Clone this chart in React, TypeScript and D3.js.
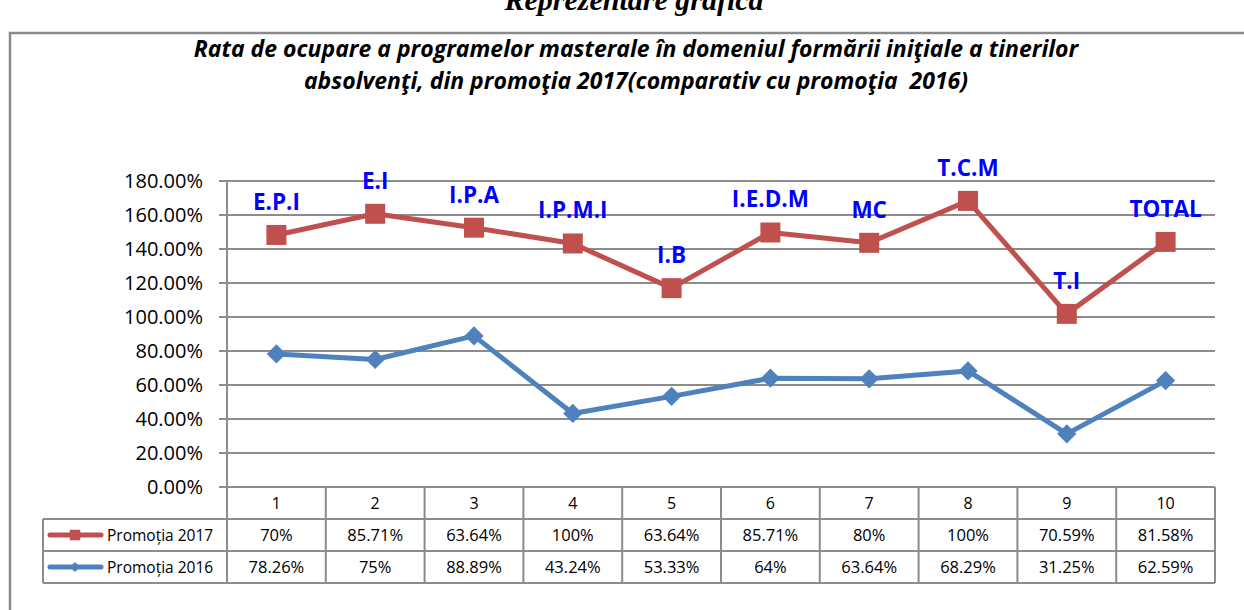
import React from 'react';
import * as d3 from 'd3';

const categories = ['1', '2', '3', '4', '5', '6', '7', '8', '9', '10'];
const pointLabels = ['E.P.I', 'E.I', 'I.P.A', 'I.P.M.I', 'I.B', 'I.E.D.M', 'MC', 'T.C.M', 'T.I', 'TOTAL'];
const promotia2017 = [70, 85.71, 63.64, 100, 63.64, 85.71, 80, 100, 70.59, 81.58];
const promotia2016 = [78.26, 75, 88.89, 43.24, 53.33, 64, 63.64, 68.29, 31.25, 62.59];
const yTicks = [0, 20, 40, 60, 80, 100, 120, 140, 160, 180];

const titleLines = [
  'Rata de ocupare a programelor masterale în domeniul formării iniţiale a tinerilor',
  'absolvenţi, din promoţia 2017(comparativ cu promoţia  2016)',
];

const RED = '#C0504D';
const BLUE = '#4F81BD';
const GRID = '#8c8c8c';
const FONT = "'Open Sans', sans-serif";

const App: React.FC = () => {
  const width = 1244;
  const height = 610;
  const plot = { left: 227, right: 1215, top: 181, bottom: 487 };
  const rowH = 32;
  const tableLeft = 43;

  const x = d3.scaleBand<string>().domain(categories).range([plot.left, plot.right]);
  const y = d3.scaleLinear().domain([0, 180]).range([plot.bottom, plot.top]);
  const cx = (c: string) => (x(c) ?? 0) + x.bandwidth() / 2;

  // stacked line chart: 2016 at bottom, 2017 on top
  const rows = categories.map((c, i) => ({ c, p2016: promotia2016[i], p2017: promotia2017[i] }));
  const stacked = d3.stack<any>().keys(['p2016', 'p2017'])(rows);
  const s2016 = stacked[0].map((d, i) => ({ c: categories[i], v: d[1] }));
  const s2017 = stacked[1].map((d, i) => ({ c: categories[i], v: d[1] }));

  const line = d3.line<{ c: string; v: number }>().x(d => cx(d.c)).y(d => y(d.v));
  const square = d3.symbol(d3.symbolSquare, 400)()!;
  const diamond = d3.symbol(d3.symbolSquare, 185)()!;
  const smallSquare = d3.symbol(d3.symbolSquare, 110)()!;
  const smallDiamond = d3.symbol(d3.symbolSquare, 50)()!;

  const fmt = (v: number) => `${v}%`;
  const tableRows = [
    { name: 'Promoția 2017', values: promotia2017, color: RED, marker: smallSquare, rot: 0 },
    { name: 'Promoția 2016', values: promotia2016, color: BLUE, marker: smallDiamond, rot: 45 },
  ];
  const r1 = plot.bottom + rowH;
  const tableBottom = plot.bottom + rowH * 3;

  return (
    <svg width={width} height={height} style={{ position: 'absolute', left: 0, top: 0, background: '#fff' }}>
      {/* document heading, cut at top */}
      <text x={634} y={10} textAnchor="middle" fontFamily="'Liberation Serif', serif" fontWeight="bold" fontStyle="italic" fontSize={30}>
        Reprezentare grafică
      </text>
      {/* chart frame */}
      <path d={`M10,${height} V33 H${width}`} fill="none" stroke="#8a8a8a" strokeWidth={2.5} />

      {titleLines.map((t, i) => (
        <text key={i} x={636} y={57 + i * 32} textAnchor="middle" fontFamily={FONT} fontWeight="bold" fontStyle="italic" fontSize={23} style={{ whiteSpace: 'pre' }}>
          {t}
        </text>
      ))}

      {/* gridlines and y ticks */}
      {yTicks.map(t => (
        <g key={t}>
          <line x1={plot.left - 8} x2={plot.right} y1={y(t)} y2={y(t)} stroke={GRID} strokeWidth={2} />
          <text x={203} y={y(t)} dy="0.36em" textAnchor="end" fontFamily={FONT} fontSize={20}>
            {t.toFixed(2)}%
          </text>
        </g>
      ))}
      <line x1={plot.left} x2={plot.left} y1={plot.top} y2={tableBottom} stroke={GRID} strokeWidth={2} />

      {/* data table */}
      {categories.map(c => (
        <g key={c}>
          <line x1={(x(c) ?? 0) + x.bandwidth()} x2={(x(c) ?? 0) + x.bandwidth()} y1={plot.bottom} y2={tableBottom} stroke={GRID} strokeWidth={2} />
          <text x={cx(c)} y={plot.bottom + rowH / 2} dy="0.36em" textAnchor="middle" fontFamily={FONT} fontSize={16}>
            {c}
          </text>
        </g>
      ))}
      {[r1, r1 + rowH, tableBottom].map(yy => (
        <line key={yy} x1={tableLeft} x2={plot.right} y1={yy} y2={yy} stroke={GRID} strokeWidth={2} />
      ))}
      <line x1={tableLeft} x2={tableLeft} y1={r1} y2={tableBottom} stroke={GRID} strokeWidth={2} />
      {tableRows.map((row, ri) => {
        const yy = r1 + rowH * ri + rowH / 2;
        return (
          <g key={row.name}>
            <line x1={50} x2={101} y1={yy} y2={yy} stroke={row.color} strokeWidth={5} strokeLinecap="round" />
            <path d={row.marker} transform={`translate(75,${yy}) rotate(${row.rot})`} fill={row.color} />
            <text x={107} y={yy} dy="0.36em" fontFamily={FONT} fontSize={15.5}>
              {row.name}
            </text>
            {categories.map((c, i) => (
              <text key={c} x={cx(c)} y={yy} dy="0.36em" textAnchor="middle" fontFamily={FONT} fontSize={16.5}>
                {fmt(row.values[i])}
              </text>
            ))}
          </g>
        );
      })}

      {/* series */}
      <path d={line(s2016) ?? ''} fill="none" stroke={BLUE} strokeWidth={5} strokeLinejoin="round" />
      {s2016.map(d => (
        <path key={d.c} d={diamond} transform={`translate(${cx(d.c)},${y(d.v)}) rotate(45)`} fill={BLUE} />
      ))}
      <path d={line(s2017) ?? ''} fill="none" stroke={RED} strokeWidth={5} strokeLinejoin="round" />
      {s2017.map(d => (
        <path key={d.c} d={square} transform={`translate(${cx(d.c)},${y(d.v)})`} fill={RED} />
      ))}

      {/* point labels */}
      {s2017.map((d, i) => (
        <text key={d.c} x={cx(d.c)} y={y(d.v) - 25} textAnchor="middle" fontFamily={FONT} fontWeight="bold" fontSize={22.5} fill="#0000FF">
          {pointLabels[i]}
        </text>
      ))}
    </svg>
  );
};

export default App;
